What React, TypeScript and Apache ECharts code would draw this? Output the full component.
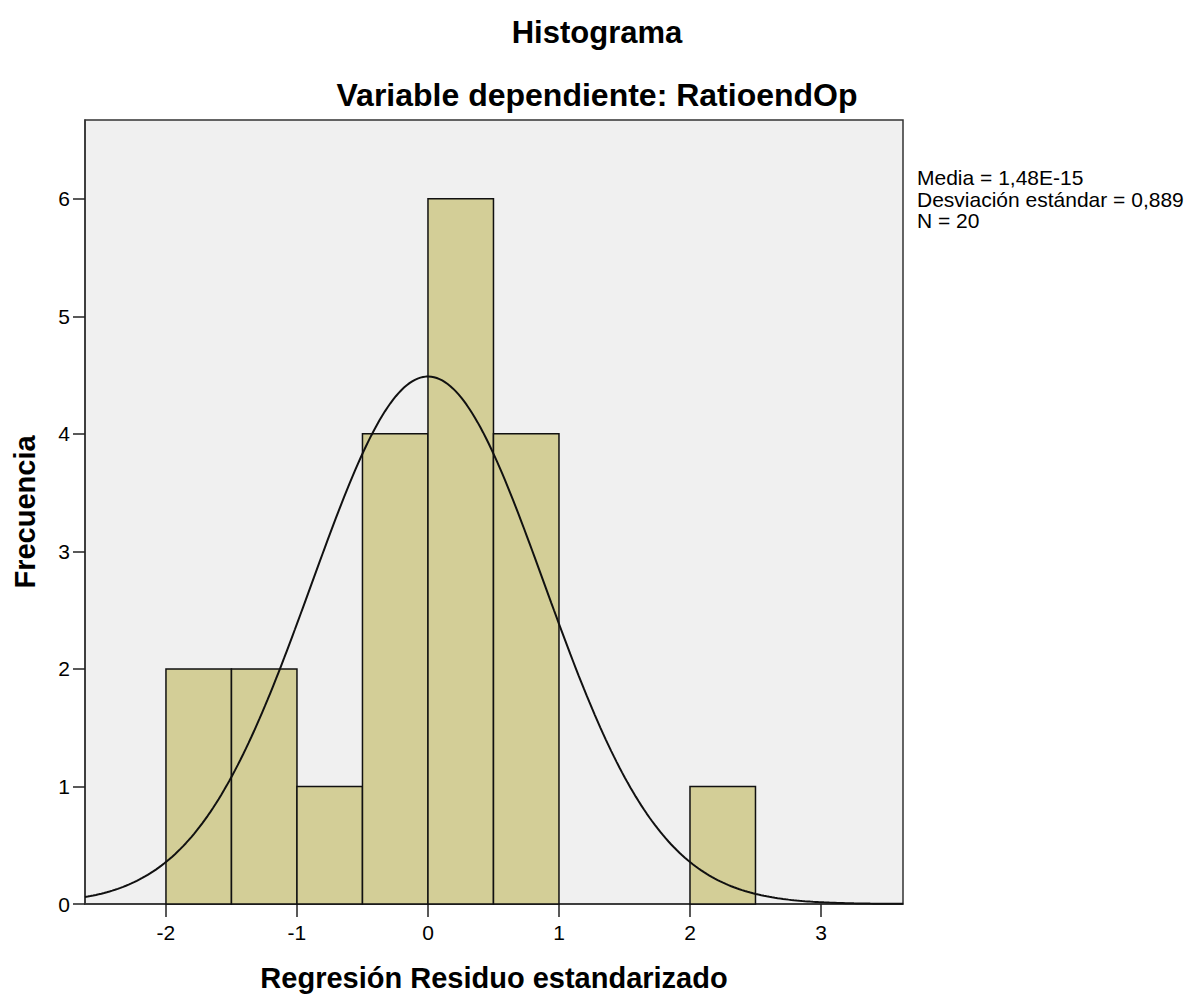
import React, { useEffect, useRef } from "react";
import * as echarts from "echarts";

const binStarts = [-2, -1.5, -1, -0.5, 0, 0.5, 2];
const binEnds = [-1.5, -1, -0.5, 0, 0.5, 1, 2.5];
const binCounts = [2, 2, 1, 4, 6, 4, 1];
const xTicks = [-2, -1, 0, 1, 2, 3];
const yTicks = [0, 1, 2, 3, 4, 5, 6];
const statsLines = ["Media = 1,48E-15", "Desviación estándar = 0,889", "N = 20"];
const fitMean = 0;
const fitSd = 0.889;
const fitN = 20;
const binWidth = 0.5;
const xMin = -2.618;
const xMax = 3.626;
const yMax = 6.67;

export default function App() {
  const ref = useRef<HTMLDivElement>(null);
  useEffect(() => {
    if (!ref.current) return;
    const chart = echarts.init(ref.current, null, { renderer: "svg" });
    const font = "'Liberation Sans', Arial, sans-serif";
    const curve: number[][] = [];
    const steps = 300;
    for (let i = 0; i <= steps; i++) {
      const x = xMin + ((xMax - xMin) * i) / steps;
      const z = (x - fitMean) / fitSd;
      const y = (fitN * binWidth * Math.exp(-0.5 * z * z)) / (fitSd * Math.sqrt(2 * Math.PI));
      curve.push([x, y]);
    }
    const bins = binStarts.map((s, i) => [s, binEnds[i], binCounts[i]]);
    chart.setOption({
      animation: false,
      backgroundColor: "#ffffff",
      title: [
        { text: "Histograma", left: "center", top: 12, textStyle: { fontFamily: font, fontSize: 31, fontWeight: "bold", color: "#000" } },
        { text: "Variable dependiente: RatioendOp", left: "center", top: 74, textStyle: { fontFamily: font, fontSize: 32, fontWeight: "bold", color: "#000" } },
      ],
      graphic: [
        {
          type: "text",
          left: 917,
          top: 167,
          style: { text: statsLines.join("\n"), fontFamily: font, fontSize: 21, lineHeight: 21.5, fill: "#000" },
        },
      ],
      grid: { left: 85, right: 291, top: 120, bottom: 95, show: true, backgroundColor: "#f0f0f0", borderColor: "#333", borderWidth: 1.5 },
      xAxis: {
        type: "value",
        min: xMin,
        max: xMax,
        name: "Regresión Residuo estandarizado",
        nameLocation: "middle",
        nameGap: 59,
        nameTextStyle: { fontFamily: font, fontSize: 29, fontWeight: "bold", color: "#000" },
        axisLine: { show: true, onZero: false, lineStyle: { color: "#333", width: 1.5 } },
        axisTick: { show: true, customValues: xTicks, length: 13, lineStyle: { color: "#222", width: 1.5 } },
        axisLabel: { customValues: xTicks, fontFamily: font, fontSize: 21, color: "#000", margin: 18 },
        splitLine: { show: false },
      },
      yAxis: {
        type: "value",
        min: 0,
        max: yMax,
        name: "Frecuencia",
        nameLocation: "middle",
        nameGap: 46,
        nameTextStyle: { fontFamily: font, fontSize: 29, fontWeight: "bold", color: "#000" },
        axisLine: { show: true, onZero: false, lineStyle: { color: "#333", width: 1.5 } },
        axisTick: { show: true, customValues: yTicks, length: 12, lineStyle: { color: "#222", width: 1.5 } },
        axisLabel: { customValues: yTicks, fontFamily: font, fontSize: 21, color: "#000", margin: 15 },
        splitLine: { show: false },
      },
      series: [
        {
          type: "custom",
          data: bins,
          encode: { x: [0, 1], y: 2 },
          renderItem: (params: any, api: any) => {
            const p0 = api.coord([api.value(0), api.value(2)]);
            const p1 = api.coord([api.value(1), 0]);
            return {
              type: "rect",
              shape: { x: p0[0], y: p0[1], width: p1[0] - p0[0], height: p1[1] - p0[1] },
              style: { fill: "#d3ce97", stroke: "#111", lineWidth: 1.5 },
            };
          },
          z: 2,
        },
        {
          type: "line",
          data: curve,
          showSymbol: false,
          smooth: false,
          lineStyle: { color: "#111", width: 2 },
          z: 3,
        },
      ],
    });
    return () => chart.dispose();
  }, []);
  return <div ref={ref} style={{ position: "fixed", left: 0, top: 0, width: 1194, height: 999 }} />;
}
